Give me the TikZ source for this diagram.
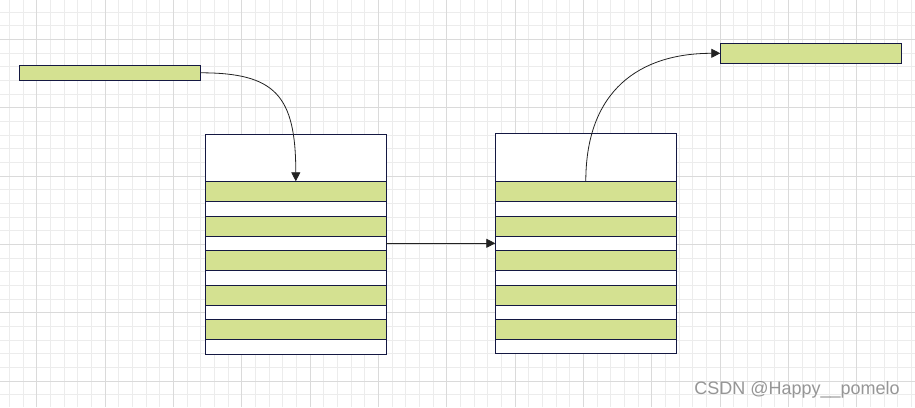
\documentclass[tikz,border=0pt]{standalone}
\usepackage{fontspec}
\newfontfamily\wmfont{Liberation Sans}
\usetikzlibrary{arrows.meta}
\definecolor{lgreen}{RGB}{212,225,145}
\definecolor{navy}{RGB}{20,24,66}
\definecolor{gminor}{RGB}{236,236,236}
\definecolor{gmajor}{RGB}{218,218,218}
\definecolor{arrc}{RGB}{34,34,34}
\definecolor{wm}{RGB}{150,150,150}
\tikzset{
  bar/.style={draw=navy, line width=0.8pt, inner sep=0pt, outer sep=0pt, anchor=north west, minimum width=181pt},
  gbar/.style={bar, fill=lgreen},
  wbar/.style={bar, fill=white},
  arr/.style={draw=arrc, line width=0.8pt, -{Triangle[length=9pt,width=9pt]}},
}
\begin{document}
\begin{tikzpicture}[x=1pt,y=-1pt]
\useasboundingbox (0,0) rectangle (915,407);
\fill[white] (0,0) rectangle (915,407);
% grid
\foreach \i in {0,...,66} {
  \pgfmathsetmacro{\xx}{9.37+13.667*\i}
  \pgfmathtruncatemacro{\m}{mod(\i,5)}
  \ifnum\m=2 \else \draw[gminor, line width=1pt] (\xx,0) -- (\xx,407); \fi
}
\foreach \i in {0,...,29} {
  \pgfmathsetmacro{\yy}{12.0+13.667*\i}
  \pgfmathtruncatemacro{\m}{mod(\i,5)}
  \ifnum\m=2 \else \draw[gminor, line width=1pt] (0,\yy) -- (915,\yy); \fi
}
\foreach \i in {2,7,...,66} {
  \pgfmathsetmacro{\xx}{9.37+13.667*\i}
  \draw[gmajor, line width=1pt] (\xx,0) -- (\xx,407);
}
\foreach \i in {2,7,...,29} {
  \pgfmathsetmacro{\yy}{12.0+13.667*\i}
  \draw[gmajor, line width=1pt] (0,\yy) -- (915,\yy);
}
% small boxes
\node[gbar, minimum height=15pt] (src) at (19.3,65.3) {};
\node[gbar, minimum height=20pt] (dst) at (720.3,43.3) {};
% left big box
\node[wbar, minimum height=47pt] (hL) at (205.3,134.3) {};
\node[gbar, minimum height=20pt] (gL1) at (205.3,181.3) {};
\node[wbar, minimum height=15pt] (wL1) at (205.3,201.3) {};
\node[gbar, minimum height=20pt] (gL2) at (205.3,216.3) {};
\node[wbar, minimum height=14pt] (wL2) at (205.3,236.3) {};
\node[gbar, minimum height=20pt] (gL3) at (205.3,250.3) {};
\node[wbar, minimum height=14.7pt] (wL3) at (205.3,270.3) {};
\node[gbar, minimum height=20.3pt] (gL4) at (205.3,285.0) {};
\node[wbar, minimum height=14pt] (wL4) at (205.3,305.3) {};
\node[gbar, minimum height=20pt] (gL5) at (205.3,319.3) {};
\node[wbar, minimum height=15pt] (wL5) at (205.3,339.3) {};
% right big box
\node[wbar, minimum height=48pt] (hR) at (495.3,133.3) {};
\node[gbar, minimum height=20pt] (gR1) at (495.3,181.3) {};
\node[wbar, minimum height=15pt] (wR1) at (495.3,201.3) {};
\node[gbar, minimum height=20pt] (gR2) at (495.3,216.3) {};
\node[wbar, minimum height=14pt] (wR2) at (495.3,236.3) {};
\node[gbar, minimum height=20pt] (gR3) at (495.3,250.3) {};
\node[wbar, minimum height=14.7pt] (wR3) at (495.3,270.3) {};
\node[gbar, minimum height=20.3pt] (gR4) at (495.3,285.0) {};
\node[wbar, minimum height=14pt] (wR4) at (495.3,305.3) {};
\node[gbar, minimum height=20pt] (gR5) at (495.3,319.3) {};
\node[wbar, minimum height=14pt] (wR5) at (495.3,339.3) {};
\coordinate (outL) at (386.3,243.3);
\coordinate (inR) at (495.3,243.3);
% connectors
\draw[arr] (src.east) .. controls (275,72.8) and (gL1.north |- 0,95) .. (gL1.north);
\draw[arr] (outL) -- (inR);
\draw[arr] (gR1.north) .. controls (gR1.north |- 0,90) and (640,53.3) .. (dst.west);
% watermark
\node[anchor=base east, inner sep=0pt, text=wm, font=\wmfont\fontsize{18}{18}\selectfont] (wmark) at (900,394) {CSDN @Happy\_\_pomelo};
\end{tikzpicture}
\end{document}
